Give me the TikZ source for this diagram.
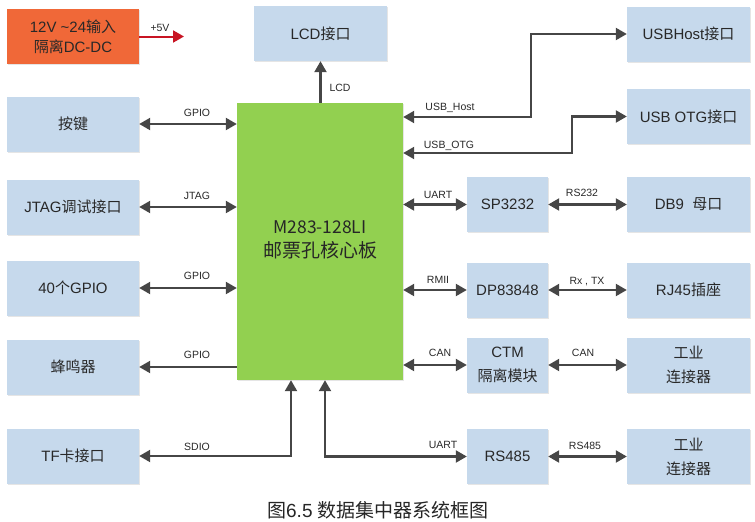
\documentclass[tikz,border=0pt]{standalone}
\usepackage{fontspec}
\setmainfont{Liberation Sans}
\newfontfamily\cjkf{Noto Sans CJK SC}
\usetikzlibrary{arrows.meta,shadows}
\definecolor{boxblue}{RGB}{198,217,236}
\definecolor{coregreen}{RGB}{146,208,80}
\definecolor{pwrorange}{RGB}{240,104,56}
\definecolor{linegray}{RGB}{70,70,70}
\definecolor{txtc}{RGB}{40,40,40}
\definecolor{pwrred}{RGB}{200,20,35}
\newcommand\zhtxt[1]{{\cjkf #1}}
\begin{document}
\begin{tikzpicture}[x=1pt,y=-1pt,
  shbox/.style={draw=none, inner sep=0pt, align=center, text=txtc,
    drop shadow={shadow xshift=1.2pt, shadow yshift=-1.2pt, fill=black, opacity=0.10}},
  box/.style={shbox, fill=boxblue, minimum height=55pt,
    font=\fontsize{15}{24}\selectfont},
  lbox/.style={box, minimum width=132pt},
  rbox/.style={box, minimum width=123pt},
  mbox/.style={box, minimum width=81pt},
  lab/.style={font=\fontsize{10.5}{12}\selectfont, text=txtc, inner sep=0pt},
  conn/.style={draw=linegray, line width=2.2pt},
  both/.style={conn, {Triangle[length=11pt,width=12pt]}-{Triangle[length=11pt,width=12pt]}},
  one/.style={conn, -{Triangle[length=11pt,width=12pt]}},
]
\useasboundingbox (0,0) rectangle (755,522);

% power
\node[shbox, fill=pwrorange, minimum width=132pt, minimum height=55pt,
  font=\fontsize{15}{20}\selectfont] (pwr) at (73,36.5) {12V \textasciitilde24\zhtxt{输入}\\\zhtxt{隔离}DC-DC};
\coordinate (pwrend) at (184,36.5);
\draw[draw=pwrred, line width=2pt, -{Triangle[length=11pt,width=12pt]}, color=pwrred] (pwr.east) -- (pwrend);
\node[lab] (l5v) at (160,28) {+5V};

% core
\node[shbox, fill=coregreen, minimum width=166pt, minimum height=277pt] (core) at (320,241.5) {};
\node[font=\cjkf\fontsize{19}{24}\selectfont, text=black!85, align=center] (coretxt) at (320,240) {{\fontsize{17.5}{24}\selectfont M283-128LI}\\邮票孔核心板};

% top
\node[box, minimum width=133pt] (lcd) at (320.5,33.5) {LCD\zhtxt{接口}};
\draw[one] (lcd.south |- core.north) -- (lcd.south);
\node[lab] (llcd) at (340,88) {LCD};

% left column
\node[lbox] (key) at (73,124) {\zhtxt{按键}};
\node[lbox] (jtag) at (73,207) {JTAG\zhtxt{调试接口}};
\node[lbox] (gpio) at (73,288) {40\zhtxt{个}GPIO};
\node[lbox] (buzz) at (73,367) {\zhtxt{蜂鸣器}};
\node[lbox] (tf) at (73,456) {TF\zhtxt{卡接口}};

\draw[both] (key.east) -- (core.west |- key.east);
\draw[both] (jtag.east) -- (core.west |- jtag.east);
\draw[both] (gpio.east) -- (core.west |- gpio.east);
\draw[one] (core.west |- buzz.east) -- (buzz.east);
\coordinate (sdx) at (291,0);
\draw[both] (tf.east) -| (core.south -| sdx);

\node[lab] (lk) at (197,113) {GPIO};
\node[lab] (lj) at (197,196) {JTAG};
\node[lab] (lg) at (197,276) {GPIO};
\node[lab] (lb) at (197,355) {GPIO};
\node[lab] (ls) at (197,447) {SDIO};

% right column
\node[rbox] (usbh) at (688.5,34) {USBHost\zhtxt{接口}};
\node[rbox] (usbo) at (688.5,116.5) {USB OTG\zhtxt{接口}};
\node[mbox] (sp) at (507.5,204.5) {SP3232};
\node[rbox] (db9) at (688.5,204.5) {DB9\ \ \zhtxt{母口}};
\node[mbox] (dp) at (507.5,290) {DP83848};
\node[rbox] (rj) at (688.5,290) {RJ45\zhtxt{插座}};
\node[mbox] (ctm) at (507.5,365) {CTM\\\zhtxt{隔离模块}};
\node[rbox] (ind1) at (688.5,365) {\zhtxt{工业}\\\zhtxt{连接器}};
\node[mbox] (rs) at (507.5,456.5) {RS485};
\node[rbox] (ind2) at (688.5,456.5) {\zhtxt{工业}\\\zhtxt{连接器}};

\coordinate (hostbend) at (531,117);
\draw[both] (core.east |- hostbend) -- (hostbend) |- (usbh.west);
\coordinate (otgbend) at (572,153);
\draw[both] (core.east |- otgbend) -- (otgbend) |- (usbo.west);
\draw[both] (core.east |- sp.west) -- (sp.west);
\draw[both] (sp.east) -- (db9.west);
\draw[both] (core.east |- dp.west) -- (dp.west);
\draw[both] (dp.east) -- (rj.west);
\draw[both] (core.east |- ctm.west) -- (ctm.west);
\draw[both] (ctm.east) -- (ind1.west);
\coordinate (uax) at (325,0);
\draw[both] (core.south -| uax) |- (rs.west);
\draw[both] (rs.east) -- (ind2.west);

\node[lab] (luh) at (450,108) {USB\_Host};
\node[lab] (luo) at (449,146) {USB\_OTG};
\node[lab] (lu1) at (438,195) {UART};
\node[lab] (lr232) at (582,193) {RS232};
\node[lab] (lrm) at (438,280) {RMII};
\node[lab] (lrx) at (587,282) {Rx , TX};
\node[lab] (lc1) at (440,353) {CAN};
\node[lab] (lc2) at (583,353) {CAN};
\node[lab] (lu2) at (443,445) {UART};
\node[lab] (lr485) at (585,446) {RS485};

% caption
\node[font=\fontsize{19}{22}\selectfont, text=black!85] (cap) at (378,510) {\zhtxt{图}6.5 \zhtxt{数据集中器系统框图}};
\end{tikzpicture}
\end{document}
